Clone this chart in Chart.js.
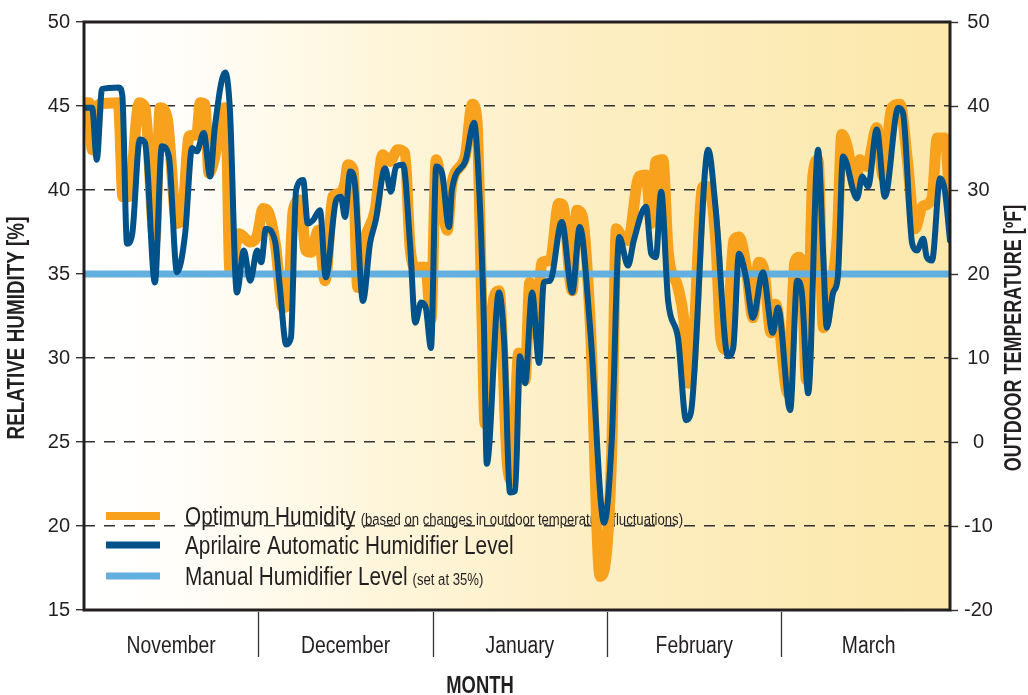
<!DOCTYPE html>
<html>
<head>
<meta charset="utf-8">
<script src="https://cdn.jsdelivr.net/npm/chart.js@4.4.1/dist/chart.umd.min.js"></script>
<style>
html,body{margin:0;padding:0;background:#ffffff;}
#wrap{width:1028px;height:695px;position:relative;}
</style>
</head>
<body>
<div id="wrap"><canvas id="c" width="1028" height="695"></canvas></div>
<script>
// ---------- data ----------
const months = ['November','December','January','February','March'];
const monthCenters = [15, 45, 75, 105, 135];
const monthBounds = [30, 60, 90, 120];
const humidityTicks = [15, 20, 25, 30, 35, 40, 45, 50];
const temperatureTicks = [-20, -10, 0, 10, 20, 30, 40, 50];
const manualLevel = 35;

const aprilaireDays = [0,1.4,2.2,3.1,6.0,6.6,7.4,8.3,9.6,10.5,12.2,13.4,14.6,16.0,17.4,18.6,19.4,20.6,21.7,22.5,24.3,25.1,26.3,27.5,28.6,29.8,
  30.5,31.3,32.9,33.7,34.8,35.6,36.5,37.7,38.5,39.4,40.6,41.6,43.4,44.2,44.9,45.8,46.6,48.0,49.2,50.2,51.8,52.8,53.7,54.9,56.1,57.0,58.0,58.8,59.7,
  60.6,61.6,62.8,63.3,65.6,67.1,68.0,68.8,69.3,71.4,72.3,73.3,74.2,75.0,75.9,77.1,78.3,79.1,80.2,82.2,84.0,85.3,87.1,89.5,90.8,
  92.1,93.6,94.6,96.7,97.6,98.4,99.3,100.5,102.2,103.6,104.4,107.4,108.7,110.8,111.7,112.7,113.9,115.1,116.8,118.5,119.4,
  121.5,122.7,123.5,124.6,126.3,127.2,127.8,128.9,129.7,130.6,133.0,133.9,134.9,136.4,137.8,140.1,140.9,142.5,143.3,144.4,145.0,145.9,147.3,148.1,149.0];
const aprilaireValues = [44.9,44.9,41.8,46.0,46.1,45.6,36.8,37.4,43.0,42.8,34.5,42.6,42.0,35.1,37.4,42.5,42.3,43.4,40.8,43.7,47.0,44.8,33.9,36.4,34.6,36.4,
  35.7,37.7,36.9,34.2,30.8,31.2,40.0,40.6,38.0,38.2,38.8,34.8,39.4,39.6,38.4,41.1,40.4,33.4,36.8,38.2,41.3,39.9,41.4,41.5,36.8,32.1,33.3,33.0,30.6,
  41.4,41.0,37.8,40.0,41.7,44.0,40.0,32.1,23.7,33.9,30.9,22.0,22.1,30.1,28.5,33.9,29.7,34.5,34.6,38.1,33.9,37.8,31.7,20.2,25.1,
  37.2,35.5,37.0,39.0,36.2,36.0,39.9,33.4,31.2,26.3,26.7,42.4,38.8,30.1,30.6,36.2,34.8,32.4,35.1,31.5,33.0,
  26.9,34.6,33.9,27.9,42.4,36.0,31.8,33.9,34.8,42.0,39.5,40.8,40.2,43.6,39.6,44.9,44.6,36.8,36.4,37.1,36.0,35.8,40.7,40.0,37.0];

const optimumDays = [0,0.9,1.4,1.7,2.6,5.9,6.7,7.7,9.5,10.5,12.2,13.1,14.3,16.0,16.9,18.1,19.4,20.0,20.8,21.5,22.4,24.1,24.4,25.1,26.7,28.6,29.8,
  30.8,31.7,33.0,34.2,35.1,36.0,37.2,38.2,39.1,40.3,41.5,42.8,44.0,44.9,45.4,46.3,47.1,48.3,50.1,51.4,52.6,54.0,55.2,56.1,57.1,58.8,59.7,
  60.6,62.5,63.3,65.6,66.8,67.6,68.5,69.0,70.5,71.4,72.8,73.6,74.8,75.9,76.7,77.8,78.8,80.2,81.7,82.4,84.0,84.8,85.7,87.1,88.8,89.5,90.8,
  91.6,92.4,93.6,95.5,96.7,97.6,98.4,99.6,100.5,102.2,103.2,104.0,104.6,106.5,107.5,108.7,109.6,110.5,111.8,112.7,113.9,115.1,116.1,117.0,118.2,119.0,
  121.1,122.3,123.0,123.5,124.3,125.4,126.3,127.2,128.4,129.6,130.4,131.3,132.7,133.5,134.7,136.4,137.5,139.0,140.4,141.6,143.0,144.2,145.9,146.8,148.1,149.0];
const optimumValues = [45.2,45.2,42.4,42.4,45.1,45.2,39.6,39.6,45.2,44.9,37.0,44.9,44.3,38.0,38.4,43.2,43.3,45.2,45.1,41.0,41.8,44.9,44.8,35.2,37.4,36.9,37.3,
  38.9,38.7,36.6,33.0,33.2,38.8,39.4,36.4,36.3,37.6,34.6,39.6,39.8,40.4,41.5,41.2,34.2,37.0,38.8,42.1,41.7,42.4,42.2,36.6,35.4,35.4,32.3,
  41.8,37.6,40.4,42.0,45.1,44.2,32.1,26.1,33.6,34.0,23.9,22.7,30.3,28.7,34.5,31.4,35.7,35.8,39.2,39.1,34.0,38.8,38.5,32.1,17.0,17.4,24.5,
  37.7,37.3,37.0,40.8,40.9,38.0,41.7,41.8,36.4,34.2,32.3,28.5,29.3,40.2,40.2,37.0,31.1,30.5,37.0,37.2,35.5,32.4,35.7,35.2,31.5,33.2,
  27.9,35.7,36.0,35.2,28.7,40.8,41.8,31.8,33.9,37.2,43.3,42.6,40.2,41.8,41.4,43.7,40.8,44.9,45.1,42.0,37.7,39.0,39.5,43.1,43.1,39.2];

const legendItems = [
  {label: 'Optimum Humidity', note: '(based on changes in outdoor temperature fluctuations)', color: '#F7A11C', width: 8},
  {label: 'Aprilaire Automatic Humidifier Level', note: '', color: '#00528A', width: 7},
  {label: 'Manual Humidifier Level', note: '(set at 35%)', color: '#62AFE0', width: 7}
];

// ---------- styling ----------
const FONT = "'Liberation Sans','Arial',sans-serif";
const TXT = '#231F20';
const DAY_MAX = 149;

const toPoints = (xs, ys) => xs.map((x, i) => ({x: x, y: ys[i]}));

// draws condensed text (horizontally compressed Liberation Sans), returns drawn width
function narrowText(ctx, text, x, y, font, align, sx, rot) {
  ctx.save();
  ctx.translate(x, y);
  if (rot) ctx.rotate(rot);
  ctx.scale(sx, 1);
  ctx.font = font;
  ctx.textAlign = align;
  ctx.fillText(text, 0, 0);
  const w = ctx.measureText(text).width * sx;
  ctx.restore();
  return w;
}

const bgPlugin = {
  id: 'bg',
  beforeDraw(chart) {
    const {ctx, chartArea: a} = chart;
    ctx.save();
    ctx.fillStyle = '#ffffff';
    ctx.fillRect(0, 0, chart.width, chart.height);
    const g = ctx.createLinearGradient(a.left, 0, a.right, 0);
    g.addColorStop(0, '#ffffff');
    g.addColorStop(0.1, '#fffefb');
    g.addColorStop(0.35, '#fef5da');
    g.addColorStop(0.6, '#fdeec2');
    g.addColorStop(1, '#fce8ab');
    ctx.fillStyle = g;
    ctx.fillRect(a.left, a.top, a.right - a.left, a.bottom - a.top);
    ctx.restore();
  }
};

const legendPlugin = {
  id: 'customLegend',
  beforeDatasetsDraw(chart) {
    const {ctx} = chart;
    const rows = [516, 545, 576];
    ctx.save();
    legendItems.forEach((it, i) => {
      const y = rows[i];
      ctx.strokeStyle = it.color;
      ctx.lineWidth = it.width;
      ctx.lineCap = 'butt';
      ctx.beginPath();
      ctx.moveTo(106, y);
      ctx.lineTo(160, y);
      ctx.stroke();
      ctx.fillStyle = TXT;
      ctx.textBaseline = 'alphabetic';
      const w = narrowText(ctx, it.label, 185, y + 9, '25px ' + FONT, 'left', 0.83);
      if (it.note) {
        narrowText(ctx, it.note, 185 + w + 5, y + 9, '16px ' + FONT, 'left', 0.82);
      }
    });
    ctx.restore();
  }
};

const framePlugin = {
  id: 'frame',
  afterDatasetsDraw(chart) {
    const {ctx, chartArea: a} = chart;
    const xs = chart.scales.x;
    ctx.save();
    ctx.strokeStyle = TXT;
    ctx.lineWidth = 3;
    ctx.strokeRect(a.left, a.top, a.right - a.left, a.bottom - a.top);
    ctx.lineWidth = 1.3;
    ctx.strokeStyle = '#333333';
    monthBounds.forEach(v => {
      const x = Math.round(xs.getPixelForValue(v)) + 0.5;
      ctx.beginPath();
      ctx.moveTo(x, a.bottom + 2);
      ctx.lineTo(x, a.bottom + 47);
      ctx.stroke();
    });
    ctx.restore();
  },
  afterDraw(chart) {
    const {ctx} = chart;
    const xs = chart.scales.x;
    ctx.save();
    ctx.fillStyle = TXT;
    ctx.textBaseline = 'middle';
    months.forEach((m, i) => {
      narrowText(ctx, m, xs.getPixelForValue(monthCenters[i]), 647, '23px ' + FONT, 'center', 0.84);
    });
    narrowText(ctx, 'MONTH', 480, 687, 'bold 23px ' + FONT, 'center', 0.8);
    narrowText(ctx, 'RELATIVE HUMIDITY [%]', 18, 328, 'bold 23px ' + FONT, 'center', 0.82, -Math.PI / 2);
    narrowText(ctx, 'OUTDOOR TEMPERATURE [\u00BAF]', 1015, 338, 'bold 23px ' + FONT, 'center', 0.78, -Math.PI / 2);
    ctx.restore();
  }
};

const tickFont = {family: FONT, size: 20};

new Chart(document.getElementById('c'), {
  type: 'line',
  data: {
    datasets: [
      {
        label: 'Aprilaire Automatic Humidifier Level',
        data: toPoints(aprilaireDays, aprilaireValues),
        borderColor: '#00528A',
        borderWidth: 6,
        pointRadius: 0,
        tension: 0.3,
        cubicInterpolationMode: 'monotone',
        borderJoinStyle: 'round',
        borderCapStyle: 'round',
        yAxisID: 'y',
        order: 0
      },
      {
        label: 'Manual Humidifier Level',
        data: [{x: 0, y: manualLevel}, {x: DAY_MAX, y: manualLevel}],
        borderColor: '#62AFE0',
        borderWidth: 7,
        pointRadius: 0,
        yAxisID: 'y',
        order: 1
      },
      {
        label: 'Optimum Humidity',
        data: toPoints(optimumDays, optimumValues),
        borderColor: '#F7A11C',
        borderWidth: 11,
        pointRadius: 0,
        tension: 0.3,
        cubicInterpolationMode: 'monotone',
        borderJoinStyle: 'round',
        borderCapStyle: 'butt',
        yAxisID: 'y',
        order: 2
      }
    ]
  },
  options: {
    responsive: false,
    animation: false,
    devicePixelRatio: 1,
    layout: {padding: {top: 22, left: 0, right: 0, bottom: 0}},
    plugins: {legend: {display: false}, tooltip: {enabled: false}},
    scales: {
      x: {
        type: 'linear',
        min: 0,
        max: DAY_MAX,
        afterBuildTicks: s => { s.ticks = monthCenters.map(v => ({value: v})); },
        afterFit: s => { s.height = 85; },
        ticks: {display: false},
        grid: {display: false, drawTicks: false},
        border: {display: false}
      },
      y: {
        position: 'left',
        min: 15,
        max: 50,
        afterBuildTicks: s => { s.ticks = humidityTicks.map(v => ({value: v})); },
        afterFit: s => { s.width = 84; },
        ticks: {font: tickFont, color: TXT, padding: 6, callback: v => String(v)},
        grid: {color: '#333333', lineWidth: 1.4, tickLength: 8, tickColor: '#333333', tickBorderDash: [], tickWidth: 1.4},
        border: {display: false, dash: [11, 9]}
      },
      y2: {
        position: 'right',
        min: -20,
        max: 50,
        afterBuildTicks: s => { s.ticks = temperatureTicks.map(v => ({value: v})); },
        afterFit: s => { s.width = 78; },
        ticks: {font: tickFont, color: TXT, padding: 6, crossAlign: 'center', callback: v => String(v)},
        grid: {drawOnChartArea: false, tickLength: 8, tickColor: '#333333', tickWidth: 1.4},
        border: {display: false}
      }
    }
  },
  plugins: [bgPlugin, legendPlugin, framePlugin]
});
</script>
</body>
</html>
